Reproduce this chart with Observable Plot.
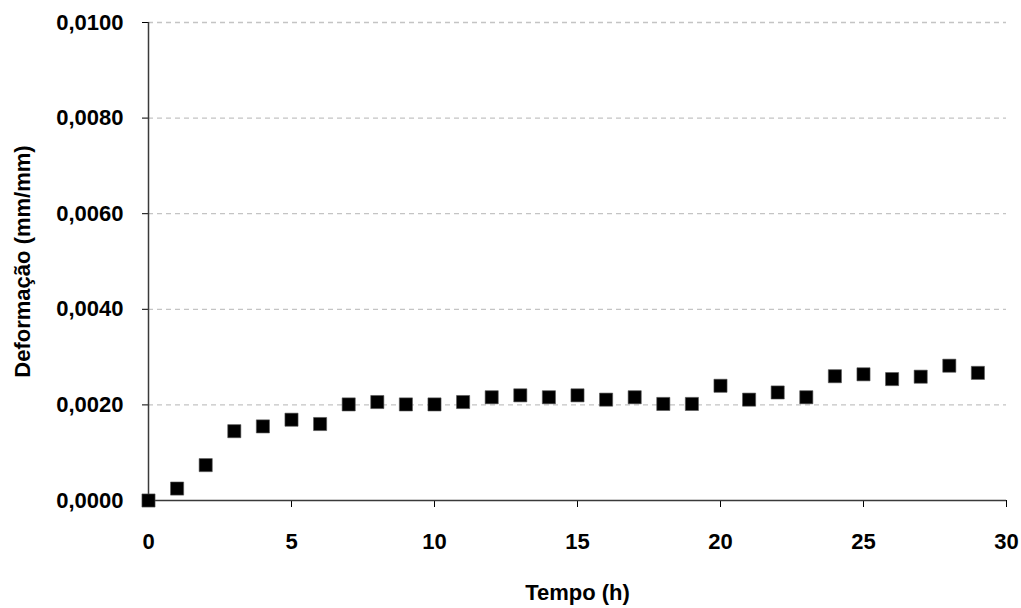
<!DOCTYPE html>
<html>
<head>
<meta charset="utf-8">
<script src="https://cdn.jsdelivr.net/npm/d3@7"></script>
<script src="https://cdn.jsdelivr.net/npm/@observablehq/plot@0.6"></script>
<style>
  html, body { margin: 0; padding: 0; background: #fff; }
  #chart { width: 1021px; height: 608px; }
</style>
</head>
<body>
<div id="chart"></div>
<script>
// Data
const tempo = [0,1,2,3,4,5,6,7,8,9,10,11,12,13,14,15,16,17,18,19,20,21,22,23,24,25,26,27,28,29];
const deformacao = [0.0000,0.00025,0.00074,0.00145,0.00155,0.00169,0.00160,0.00201,0.00206,0.00201,
                    0.00201,0.00206,0.00216,0.00220,0.00216,0.00220,0.00211,0.00216,0.00202,0.00202,
                    0.00240,0.00211,0.00226,0.00216,0.00260,0.00264,0.00254,0.00259,0.00282,0.00267];
const xTicks = [0,5,10,15,20,25,30];
const yTicks = [0,0.002,0.004,0.006,0.008,0.010];
const xLabel = "Tempo (h)";
const yLabel = "Deformação (mm/mm)";

const data = tempo.map((t, i) => ({t, d: deformacao[i]}));
const fmtY = v => v.toFixed(4).replace(".", ",");

const chart = Plot.plot({
  width: 1021,
  height: 608,
  marginLeft: 148,
  marginRight: 15,
  marginTop: 22,
  marginBottom: 108,
  style: {
    fontFamily: "'Liberation Sans', Arial, sans-serif",
    fontSize: "22px",
    fontWeight: "bold",
    color: "#000",
    background: "#fff",
    overflow: "visible"
  },
  x: {domain: [0, 30], ticks: xTicks, tickSize: 7, tickPadding: 26, tickFormat: d => String(d), label: null},
  y: {domain: [0, 0.01], ticks: yTicks, tickSize: 6, tickPadding: 19, tickFormat: fmtY, label: null},
  marks: [
    Plot.ruleY(yTicks.filter(v => v > 0), {stroke: "#c4c4c4", strokeWidth: 1.3, strokeDasharray: "5,4"}),
    Plot.ruleY([0], {stroke: "#3a3a3a", strokeWidth: 1.5}),
    Plot.ruleX([0], {stroke: "#3a3a3a", strokeWidth: 1.5}),
    Plot.dot(data, {x: "t", y: "d", symbol: "square", r: 7.4, fill: "#000", stroke: "#555", strokeWidth: 0.6}),
    Plot.text([xLabel], {frameAnchor: "bottom", dy: 99, textAnchor: "middle", text: d => d, fontSize: 22, fontWeight: "bold", fill: "#000"}),
    Plot.text([yLabel], {frameAnchor: "left", dx: -126, rotate: -90, textAnchor: "middle", text: d => d, fontSize: 22, fontWeight: "bold", fill: "#000"})
  ]
});
document.getElementById("chart").appendChild(chart);
</script>
</body>
</html>
